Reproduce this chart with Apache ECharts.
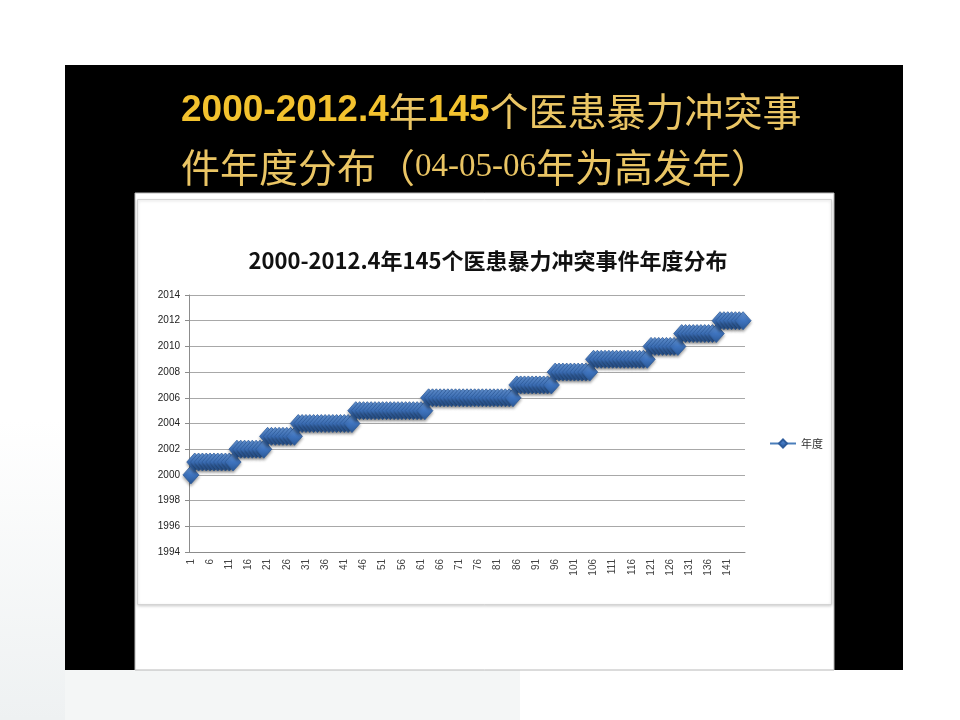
<!DOCTYPE html>
<html>
<head>
<meta charset="utf-8">
<style>
  html, body { margin: 0; padding: 0; background: #fff; }
  #slideChart { width: 960px; height: 720px; }
</style>
<script src="https://cdn.jsdelivr.net/npm/echarts@6/dist/echarts.min.js"></script>
</head>
<body>
<div id="slideChart"></div>
<script>
// 사건 번호 (1 ~ 145)
const caseNo = [
    1, 2, 3, 4, 5, 6, 7, 8, 9, 10, 11, 12, 13, 14, 15, 16, 17, 18, 19, 20,
    21, 22, 23, 24, 25, 26, 27, 28, 29, 30, 31, 32, 33, 34, 35, 36, 37, 38, 39, 40,
    41, 42, 43, 44, 45, 46, 47, 48, 49, 50, 51, 52, 53, 54, 55, 56, 57, 58, 59, 60,
    61, 62, 63, 64, 65, 66, 67, 68, 69, 70, 71, 72, 73, 74, 75, 76, 77, 78, 79, 80,
    81, 82, 83, 84, 85, 86, 87, 88, 89, 90, 91, 92, 93, 94, 95, 96, 97, 98, 99, 100,
    101, 102, 103, 104, 105, 106, 107, 108, 109, 110, 111, 112, 113, 114, 115, 116, 117, 118, 119, 120,
    121, 122, 123, 124, 125, 126, 127, 128, 129, 130, 131, 132, 133, 134, 135, 136, 137, 138, 139, 140,
    141, 142, 143, 144, 145
];

// 사건별 연도 (그림에서 읽은 값, 한 줄에 한 해)
const eventYear = [
    2000,
    2001, 2001, 2001, 2001, 2001, 2001, 2001, 2001, 2001, 2001, 2001,
    2002, 2002, 2002, 2002, 2002, 2002, 2002, 2002,
    2003, 2003, 2003, 2003, 2003, 2003, 2003, 2003,
    2004, 2004, 2004, 2004, 2004, 2004, 2004, 2004, 2004, 2004, 2004, 2004, 2004, 2004, 2004,
    2005, 2005, 2005, 2005, 2005, 2005, 2005, 2005, 2005, 2005, 2005, 2005, 2005, 2005, 2005, 2005, 2005, 2005, 2005,
    2006, 2006, 2006, 2006, 2006, 2006, 2006, 2006, 2006, 2006, 2006, 2006, 2006, 2006, 2006, 2006, 2006, 2006, 2006, 2006, 2006, 2006, 2006,
    2007, 2007, 2007, 2007, 2007, 2007, 2007, 2007, 2007, 2007,
    2008, 2008, 2008, 2008, 2008, 2008, 2008, 2008, 2008, 2008,
    2009, 2009, 2009, 2009, 2009, 2009, 2009, 2009, 2009, 2009, 2009, 2009, 2009, 2009, 2009,
    2010, 2010, 2010, 2010, 2010, 2010, 2010, 2010,
    2011, 2011, 2011, 2011, 2011, 2011, 2011, 2011, 2011, 2011,
    2012, 2012, 2012, 2012, 2012, 2012, 2012
];

const seriesName = '年度';
const chartTitle = '2000-2012.4年145个医患暴力冲突事件年度分布';

const drawSlideChart = () => {
    var chartDom = document.getElementById('slideChart');
    var myChart = echarts.init(chartDom);

    const cjk = '"Noto Sans CJK SC", sans-serif';
    const gold = '#F3C22E';
    const goldSoft = '#EAC564';

    myChart.setOption({
        animation: false,
        backgroundColor: '#ffffff',
        // 슬라이드 배경 (검정 박스, 흰 패널, 차트 테두리)
        graphic: [
            {
                type: 'rect', z: -20,
                shape: { x: 0, y: 670, width: 520, height: 50 },
                style: { fill: '#F4F6F6' }
            },
            {
                type: 'rect', z: -20,
                shape: { x: 0, y: 420, width: 65, height: 300 },
                style: {
                    fill: new echarts.graphic.LinearGradient(0, 0, 0, 1, [
                        { offset: 0, color: '#ffffff' },
                        { offset: 1, color: '#EEF1F2' }
                    ])
                }
            },
            {
                type: 'rect', z: -15,
                shape: { x: 65, y: 65, width: 838, height: 605 },
                style: { fill: '#000000' }
            },
            {
                type: 'rect', z: -14,
                shape: { x: 135, y: 193, width: 699, height: 477 },
                style: { fill: '#ffffff', stroke: '#B8B8B8', lineWidth: 1 }
            },
            {
                type: 'rect', z: -13,
                shape: { x: 137.5, y: 199.5, width: 694, height: 405 },
                style: {
                    fill: '#ffffff', stroke: '#D4D4D4', lineWidth: 1,
                    shadowBlur: 3, shadowColor: 'rgba(0,0,0,0.18)', shadowOffsetY: 1
                }
            }
        ],
        title: [
            {
                left: 176, top: 78,
                text: '{n|2000-2012.4}{h|年}{n|145}{h|个医患暴力冲突事}\n'
                    + '{h2|件年度分布（}{s|04-05-06}{h2|年为高发年）}',
                textStyle: {
                    rich: {
                        n: { fontFamily: '"Liberation Sans", Arial', fontWeight: 'bold', fontSize: 37,
                             color: gold, lineHeight: 56, verticalAlign: 'middle' },
                        h: { fontFamily: cjk, fontWeight: 'normal', fontSize: 39, color: goldSoft,
                             lineHeight: 56, verticalAlign: 'middle' },
                        h2: { fontFamily: cjk, fontWeight: 'normal', fontSize: 39, color: goldSoft,
                              lineHeight: 56, verticalAlign: 'middle' },
                        s: { fontFamily: '"Liberation Serif", serif', fontWeight: 'normal', fontSize: 33,
                             color: goldSoft, lineHeight: 56, verticalAlign: 'middle' }
                    }
                }
            },
            {
                text: chartTitle,
                left: 483, top: 245,
                textAlign: 'center',
                textStyle: { fontFamily: cjk, fontWeight: 'bold', fontSize: 22, color: '#111111' }
            }
        ],
        legend: {
            data: [seriesName],
            left: 764, top: 433,
            itemWidth: 26, itemHeight: 10,
            itemGap: 4,
            textStyle: { fontFamily: cjk, fontSize: 11, color: '#333333' }
        },
        grid: { left: 189, right: 215, top: 295, bottom: 168 },
        xAxis: {
            type: 'category',
            data: caseNo,
            boundaryGap: true,
            axisLine: { lineStyle: { color: '#8C8C8C', width: 1 } },
            axisTick: { interval: 0, length: 4, lineStyle: { color: '#8C8C8C' } },
            axisLabel: {
                interval: 4,
                rotate: 90,
                margin: 7,
                fontFamily: '"Liberation Sans", Arial',
                fontSize: 10,
                color: '#444444'
            },
            splitLine: { show: false }
        },
        yAxis: {
            type: 'value',
            min: 1994, max: 2014, interval: 2,
            axisLine: { show: true, lineStyle: { color: '#8C8C8C', width: 1 } },
            axisTick: { show: true, length: 4, lineStyle: { color: '#8C8C8C' } },
            axisLabel: {
                margin: 9,
                formatter: (v) => String(v),
                fontFamily: '"Liberation Sans", Arial',
                fontSize: 10,
                color: '#222222'
            },
            splitLine: { lineStyle: { color: '#A8A8A8', width: 1.2 } }
        },
        series: [
            {
                name: seriesName,
                type: 'line',
                data: eventYear,
                symbol: 'diamond',
                symbolSize: [16, 18],
                showAllSymbol: true,
                lineStyle: { color: '#4A7EBB', width: 2.5 },
                itemStyle: {
                    color: new echarts.graphic.LinearGradient(0, 0, 0, 1, [
                        { offset: 0, color: '#6A9BDB' },
                        { offset: 0.5, color: '#3F74BF' },
                        { offset: 1, color: '#2A5896' }
                    ]),
                    borderColor: '#2E5C9C',
                    borderWidth: 0.8,
                    shadowBlur: 3,
                    shadowColor: 'rgba(0,0,0,0.35)',
                    shadowOffsetY: 2
                },
                z: 3
            }
        ]
    });

    new ResizeObserver(() => myChart.resize()).observe(chartDom);
};

drawSlideChart();
</script>
</body>
</html>
